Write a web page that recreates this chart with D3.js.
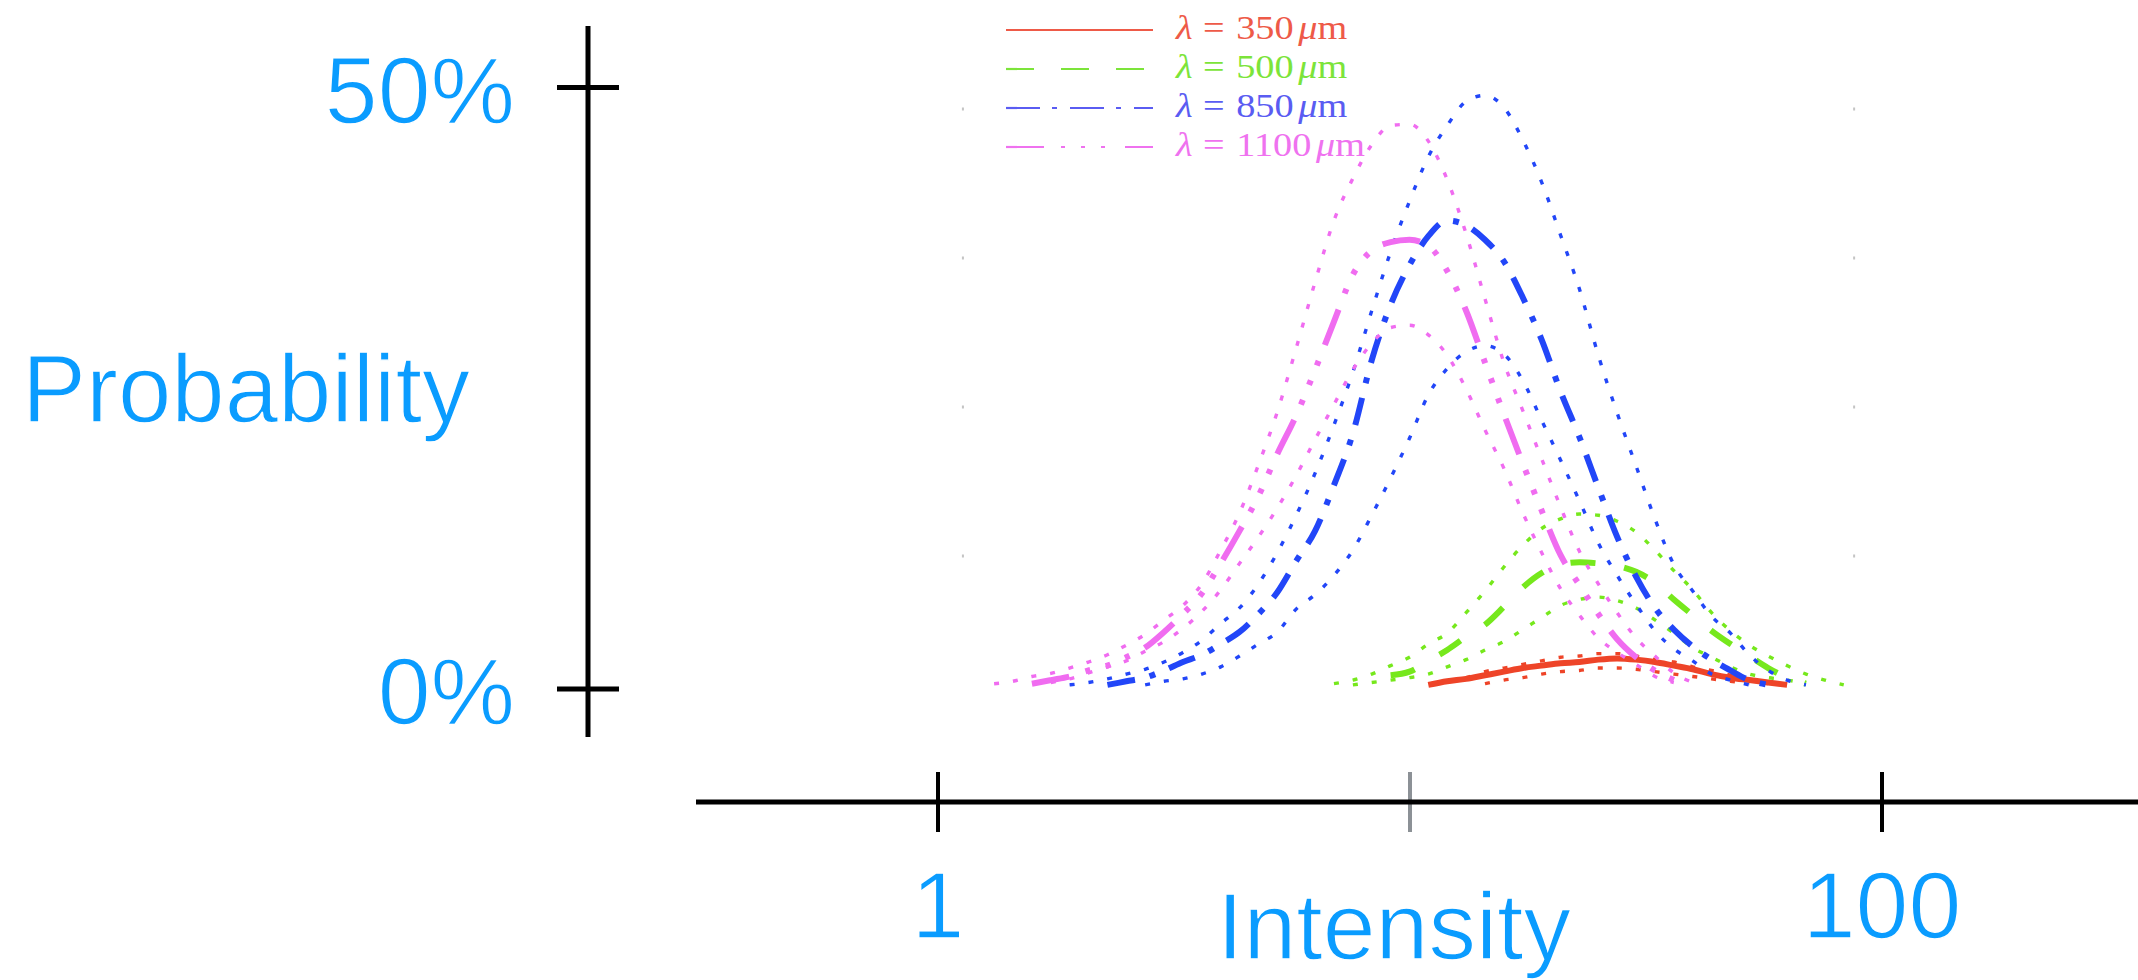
<!DOCTYPE html>
<html>
<head>
<meta charset="utf-8">
<script src="https://cdn.jsdelivr.net/npm/d3@7"></script>
<style>
  html, body { margin: 0; padding: 0; background: #fff; overflow: hidden; }
  text { font-family: "Liberation Sans", Arial, Helvetica, sans-serif; }
  .legend text { font-family: "Liberation Serif", "Times New Roman", serif; }
</style>
</head>
<body>
<svg id="chart" width="2138" height="980"></svg>
<script>
const _ = null;

// Intensity sample points (log-spaced) shared by every curve
const intensity = [1.318, 1.445, 1.585, 1.738, 1.905, 2.089, 2.291, 2.512, 2.754, 3.020,
  3.311, 3.631, 3.981, 4.365, 4.786, 5.248, 5.754, 6.310, 6.918, 7.586,
  8.318, 9.120, 10.00, 10.96, 12.02, 13.18, 14.45, 15.85, 17.38, 19.05,
  20.89, 22.91, 25.12, 27.54, 30.20, 33.11, 36.31, 39.81, 43.65, 47.86,
  52.48, 57.54, 63.10, 69.18, 75.86, 83.18];

// Probability per wavelength: main curve plus upper / lower bounds
const p350 = [_,_,_,_,_,_,_,_,_,_, _,_,_,_,_,_,_,_,_,_,
  _,_,_,0.003,0.006,0.008,0.011,0.014,0.017,0.019,
  0.021,0.022,0.024,0.025,0.024,0.022,0.019,0.016,0.012,0.009,
  0.007,0.005,0.003,_,_,_];
const p350Hi = [_,_,_,_,_,_,_,_,_,_, _,_,_,_,_,_,_,_,_,_,
  _,_,_,_,0.006,0.009,0.014,0.017,0.020,0.023,
  0.026,0.027,0.029,0.029,0.027,0.024,0.022,0.018,0.015,0.011,
  0.007,0.004,_,_,_,_];
const p350Lo = [_,_,_,_,_,_,_,_,_,_, _,_,_,_,_,_,_,_,_,_,
  _,_,_,_,_,_,0.004,0.007,0.009,0.012,
  0.014,0.015,0.017,0.017,0.016,0.014,0.012,0.010,0.008,0.006,
  0.004,_,_,_,_,_];

const p500 = [_,_,_,_,_,_,_,_,_,_, _,_,_,_,_,_,_,_,_,_,
  _,0.011,0.014,0.023,0.032,0.043,0.053,0.068,0.084,0.096,
  0.103,0.105,0.104,0.102,0.097,0.088,0.074,0.061,0.048,0.037,
  0.027,0.017,0.009,0.004,_,_];
const p500Hi = [_,_,_,_,_,_,_,_,_,_,
  _,_,_,_,_,_,_,_,0.004,0.007,
  0.012,0.019,0.026,0.037,0.046,0.063,0.081,0.101,0.119,0.133,
  0.141,0.145,0.144,0.139,0.130,0.115,0.098,0.082,0.063,0.048,
  0.036,0.027,0.019,0.012,0.007,0.003];
const p500Lo = [_,_,_,_,_,_,_,_,_,_,
  _,_,_,_,_,_,_,_,_,0.003,
  0.005,0.007,0.009,0.012,0.018,0.024,0.032,0.039,0.049,0.059,
  0.069,0.074,0.076,0.073,0.067,0.057,0.046,0.034,0.026,0.018,
  0.012,0.009,0.007,0.004,_,_];

const p850 = [_,_,_,_,_,_,0.003,0.006,0.009,0.015,
  0.022,0.028,0.037,0.047,0.062,0.080,0.106,0.131,0.169,0.212,
  0.273,0.319,0.352,0.376,0.389,0.385,0.373,0.355,0.325,0.290,
  0.247,0.209,0.167,0.126,0.093,0.067,0.049,0.035,0.024,0.015,
  0.007,0.003,_,_,_,_];
const p850Hi = [_,_,_,_,0.003,0.005,0.008,0.012,0.016,0.022,
  0.030,0.040,0.054,0.067,0.087,0.113,0.144,0.179,0.219,0.263,
  0.314,0.363,0.405,0.442,0.468,0.488,0.493,0.483,0.456,0.421,
  0.377,0.332,0.277,0.229,0.185,0.141,0.103,0.081,0.060,0.046,
  0.028,0.015,0.007,0.003,_,_];
const p850Lo = [_,_,_,_,_,_,_,_,0.003,0.006,
  0.008,0.012,0.018,0.027,0.037,0.047,0.066,0.078,0.094,0.115,
  0.144,0.175,0.208,0.244,0.266,0.280,0.285,0.278,0.256,0.223,
  0.190,0.156,0.121,0.094,0.070,0.048,0.033,0.023,0.012,0.007,
  0.003,_,_,_,_,_];

const p1100 = [_,_,0.004,0.007,0.010,0.015,0.019,0.026,0.034,0.047,
  0.062,0.079,0.104,0.131,0.160,0.195,0.227,0.265,0.305,0.344,
  0.364,0.371,0.373,0.368,0.347,0.314,0.271,0.228,0.187,0.148,
  0.111,0.086,0.062,0.041,0.026,0.015,0.007,_,_,_,
  _,_,_,_,_,_];
const p1100Hi = [0.004,0.006,0.010,0.0125,0.017,0.022,0.028,0.036,0.045,0.057,
  0.069,0.087,0.115,0.146,0.186,0.230,0.283,0.338,0.389,0.424,
  0.452,0.468,0.469,0.455,0.423,0.378,0.324,0.271,0.231,0.191,
  0.151,0.114,0.087,0.063,0.042,0.027,0.013,0.005,_,_,
  _,_,_,_,_,_];
const p1100Lo = [_,_,_,0.005,0.008,0.013,0.018,0.023,0.031,0.039,
  0.050,0.064,0.082,0.104,0.126,0.150,0.177,0.207,0.236,0.265,
  0.287,0.300,0.302,0.294,0.277,0.249,0.215,0.183,0.146,0.113,
  0.083,0.061,0.042,0.030,0.020,0.010,0.005,_,_,_,
  _,_,_,_,_,_];

const wavelengths = ["350", "500", "850", "1100"];
const yTicks = [0, 0.5];
const xTicks = [1, 10, 100];
const xTickLabels = ["1", "", "100"];

// Styling
const curveColors = ["#ee4428", "#76e81c", "#2246f8", "#f06cf0"];
const legendColors = ["#ee5a48", "#7ce43a", "#5a5cf2", "#ef72ef"];
const mainDash = [null, "25 29", "28 15 6 15", "38 17 5 16 5 16 5 17"];
const legendDash = [null, "28 27", "34 12 5 13", "38 17 4 16 4 16 4 20"];
const labelBlue = "#0a9cff";

const seriesMain = [p350, p500, p850, p1100];
const seriesHi = [p350Hi, p500Hi, p850Hi, p1100Hi];
const seriesLo = [p350Lo, p500Lo, p850Lo, p1100Lo];

const svg = d3.select("#chart");

const x = d3.scaleLog().domain([1, 100]).range([937.5, 1881.5]);
const y = d3.scaleLinear().domain([0, 0.5]).range([688.5, 87]);

const line = d3.line()
  .defined(d => d[1] != null)
  .x(d => x(d[0]))
  .y(d => y(d[1]))
  .curve(d3.curveMonotoneX);

const pairs = vals => intensity.map((v, i) => [v, vals[i]]);

// Faint tick marks left over from the inner plot frame
const frameEdges = [1.132, 87.5];
const frameRows = [1, 2, 3, 4];
const frameY = d3.scaleLinear().domain([0, 4]).range([705, 109]);
const ghost = svg.append("g").attr("fill", "#c4c4c4");
frameEdges.forEach(e => {
  ghost.selectAll(null).data(frameRows).enter().append("rect")
    .attr("x", x(e) - 1).attr("y", d => frameY(d) - 1.5)
    .attr("width", 2).attr("height", 3);
});

// Curves: dotted bounds, then the main curve, one wavelength at a time
const curves = svg.append("g").attr("fill", "none");
wavelengths.forEach((w, k) => {
  [seriesHi[k], seriesLo[k]].forEach(vals => {
    curves.append("path")
      .attr("d", line(pairs(vals)))
      .attr("stroke", curveColors[k])
      .attr("stroke-width", 3.4)
      .attr("stroke-dasharray", "5 14");
  });
  curves.append("path")
    .attr("d", line(pairs(seriesMain[k])))
    .attr("stroke", curveColors[k])
    .attr("stroke-width", 6)
    .attr("stroke-linejoin", "round")
    .attr("stroke-dasharray", mainDash[k]);
});

// Legend
const legend = svg.append("g").attr("class", "legend");
wavelengths.forEach((w, k) => {
  const ly = 30 + k * 39;
  legend.append("line")
    .attr("x1", 1006).attr("x2", 1153)
    .attr("y1", ly).attr("y2", ly)
    .attr("stroke", legendColors[k])
    .attr("stroke-width", 2.2)
    .attr("stroke-dasharray", legendDash[k]);
  const t = legend.append("text")
    .attr("transform", `translate(1176,${ly + 9}) scale(1.16,1)`)
    .attr("fill", legendColors[k])
    .attr("font-size", 33);
  t.append("tspan").attr("font-style", "italic").text("λ");
  t.append("tspan").attr("dx", 9).text("=");
  t.append("tspan").attr("dx", 10).text(w);
  t.append("tspan").attr("dx", 4).attr("font-style", "italic").text("μ");
  t.append("tspan").text("m");
});

// Big blue labels are drawn with a thin white outline to lighten the strokes
const lighten = sel => sel.attr("stroke", "#fff").attr("stroke-width", 1.4);

// Y axis
const yAxis = svg.append("g").attr("transform", "translate(588,0)")
  .call(d3.axisLeft(y).tickValues(yTicks).tickFormat(d3.format(".0%")));
yAxis.select(".domain").remove();
yAxis.selectAll(".tick line")
  .attr("x1", -31).attr("x2", 31)
  .attr("stroke", "#000").attr("stroke-width", 5);
yAxis.selectAll(".tick text")
  .attr("x", -73).attr("dy", "0.37em")
  .attr("fill", labelBlue)
  .attr("font-size", 95)
  .attr("font-family", "Liberation Sans, Arial, sans-serif")
  .call(lighten);
yAxis.append("line")
  .attr("x1", 0).attr("x2", 0).attr("y1", 26).attr("y2", 737)
  .attr("stroke", "#000").attr("stroke-width", 5);

// X axis
const xAxis = svg.append("g").attr("transform", "translate(0,802)")
  .call(d3.axisBottom(x).tickValues(xTicks).tickFormat((d, i) => xTickLabels[i]));
xAxis.select(".domain").remove();
xAxis.append("line")
  .attr("x1", 696).attr("x2", 2138).attr("y1", 0).attr("y2", 0)
  .attr("stroke", "#000").attr("stroke-width", 5);
xAxis.selectAll(".tick line")
  .attr("y1", -30).attr("y2", 30)
  .attr("stroke", (d, i) => xTickLabels[i] === "" ? "#8c9196" : "#000")
  .attr("stroke-width", 4);
xAxis.selectAll(".tick text")
  .attr("y", 136).attr("dy", 0)
  .attr("fill", labelBlue)
  .attr("font-size", 95)
  .attr("font-family", "Liberation Sans, Arial, sans-serif")
  .call(lighten);

// Axis titles
svg.append("text")
  .attr("x", 246).attr("y", 422)
  .attr("text-anchor", "middle")
  .attr("fill", labelBlue)
  .attr("font-size", 96)
  .call(lighten)
  .text("Probability");
svg.append("text")
  .attr("x", 1394).attr("y", 959)
  .attr("text-anchor", "middle")
  .attr("fill", labelBlue)
  .attr("font-size", 95)
  .call(lighten)
  .text("Intensity");
</script>
</body>
</html>
